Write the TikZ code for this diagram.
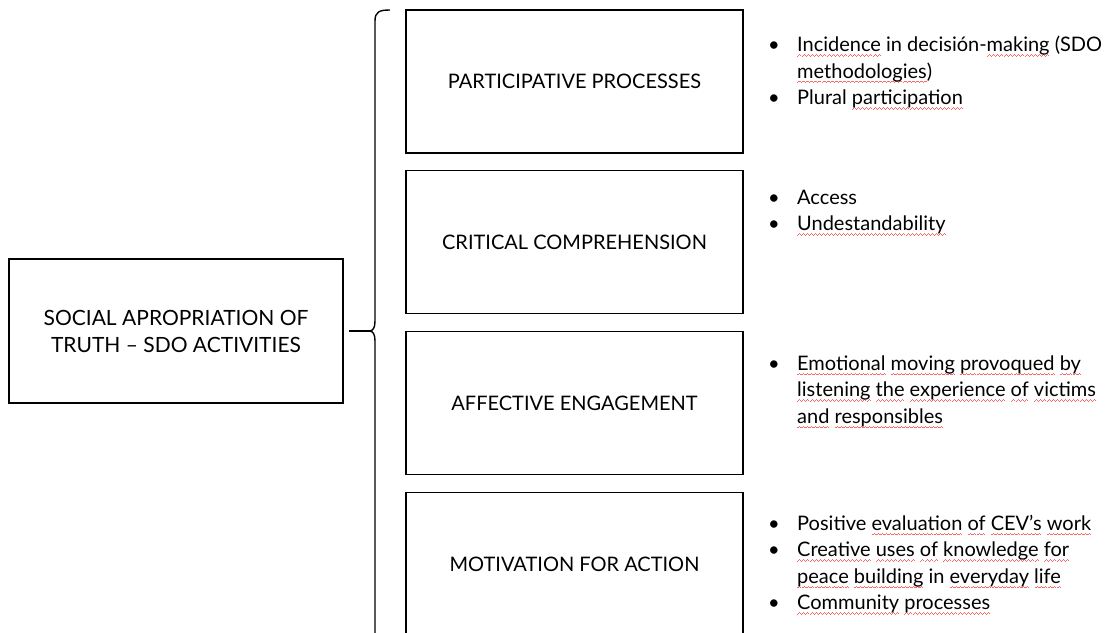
\documentclass[tikz,border=0pt]{standalone}
\usepackage{xcolor}
\usepackage{fontspec}
\setmainfont{Lato}
\usepackage{tikz}
\usetikzlibrary{positioning}

\newsavebox\splbox
\newcommand\wavepiece{\hbox{\rule{1pt}{0.5pt}\rule[0.6pt]{1pt}{0.5pt}\rule[1.2pt]{1pt}{0.5pt}\rule[0.6pt]{1pt}{0.5pt}}}
\newcommand\spl[1]{\sbox\splbox{#1}\rlap{\lower4.5pt\hbox to \wd\splbox{\color{red!60}\xleaders\wavepiece\hfil}}\usebox\splbox}
\newcommand\li{\makebox[29pt][l]{\textbullet}}
\newcommand\ind{\hspace*{29pt}}

\begin{document}
\begin{tikzpicture}[x=1pt, y=-1pt,
  font=\fontsize{20}{26.5}\selectfont,
  box/.style={rectangle, draw=black, line width=1.6pt, minimum width=337pt, minimum height=143pt, inner sep=0pt, align=center},
  items/.style={rectangle, anchor=west, inner sep=0pt, align=left},
  brace/.style={draw=black, line width=1.4pt}]
\useasboundingbox (0,0) rectangle (1118,632);
\clip (0,0) rectangle (1118,632);
\node [box, minimum width=334pt, minimum height=144pt, font=\fontsize{21}{27}\selectfont] (soc) at (176,331) {SOCIAL APROPRIATION OF\\TRUTH -- SDO ACTIVITIES};
\node [box] (pp) at (574.5,81.5) {PARTICIPATIVE PROCESSES};
\node [box] (cc) at (574.5,242) {CRITICAL COMPREHENSION};
\node [box] (ae) at (574.5,403) {AFFECTIVE ENGAGEMENT};
\node [box] (ma) at (574.5,564) {MOTIVATION FOR ACTION};
\node [items] (ppitems) at (768,72.5) {\li\spl{Incidence} in decisión-\spl{making} (SDO\\\ind\spl{methodologies})\\\li Plural \spl{participation}};
\node [items] (ccitems) at (768,212.5) {\li Access\\\li\spl{Undestandability}};
\node [items] (aeitems) at (768,391.5) {\li\spl{Emotional} \spl{moving} \spl{provoqued} \spl{by}\\\ind\spl{listening} \spl{the} \spl{experience} \spl{of} \spl{victims}\\\ind\spl{and} \spl{responsibles}};
\node [items] (maitems) at (768,564.5) {\li Positive \spl{evaluation} \spl{of} \spl{CEV’s} \spl{work}\\\li\spl{Creative} \spl{uses} \spl{of} \spl{knowledge} \spl{for}\\\ind\spl{peace} \spl{building} in \spl{everyday} \spl{life}\\\li\spl{Community} \spl{processes}};
\coordinate (cusp) at (369,331);
\draw [brace] (390,10) .. controls (379,10) and (375,12) .. (375,21) -- (375,321) .. controls (375,328) and (373,331) .. (cusp) .. controls (373,331) and (375,334) .. (375,341) -- (375,641) .. controls (375,650) and (379,652) .. (390,652);
\draw [brace] ([xshift=5pt]soc.east) -- (cusp);
\end{tikzpicture}
\end{document}
